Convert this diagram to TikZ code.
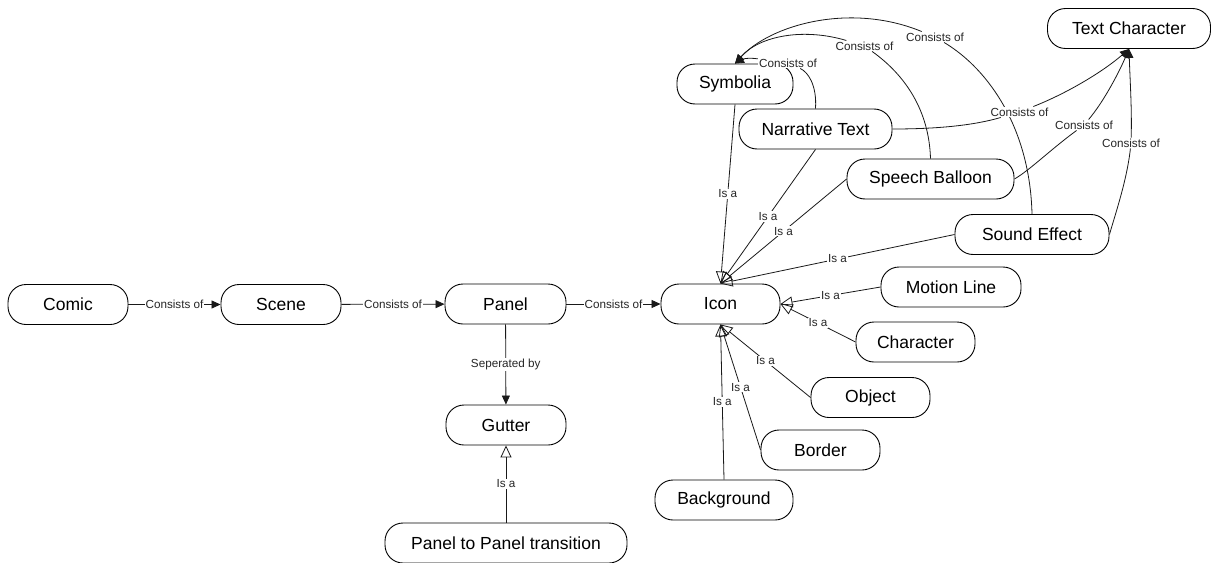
\documentclass[tikz,border=0pt]{standalone}
\usepackage{fontspec}
\setmainfont{Liberation Sans}
\usetikzlibrary{arrows.meta}
\begin{document}
\begin{tikzpicture}[x=1pt,y=-1pt,
  concept/.style={draw, line width=0.9pt, rounded corners=18pt, minimum height=40pt,
    inner sep=0pt, font=\fontsize{17.5}{21}\selectfont},
  lbl/.style={fill=white, inner sep=1pt, font=\fontsize{11.7}{13}\selectfont, text=black!85},
  link/.style={line width=0.8pt, draw=black!90},
  has/.style={link, -{Triangle[length=9pt,width=8pt]}},
  isa/.style={link, -{Triangle[open,length=12pt,width=11pt]}},
]
\useasboundingbox (0,0) rectangle (1212,562);

% concepts
\node[concept, minimum width=120pt] (comic)  at (68,304.5)   {Comic};
\node[concept, minimum width=120pt] (scene)  at (281,304.5)  {Scene};
\node[concept, minimum width=121pt] (panel)  at (505.5,304)  {Panel};
\node[concept, minimum width=119pt] (icon)   at (720.5,304)  {Icon};
\node[concept, minimum width=120pt] (gutter) at (506,425)    {Gutter};
\node[concept, minimum width=242pt] (ptp)    at (506,543)    {Panel to Panel transition};
\node[concept, minimum width=116pt] (sym)    at (735,84)     {Symbolia};
\node[concept, minimum width=153pt] (nt)     at (815.5,129)  {Narrative Text};
\node[concept, minimum width=163pt] (tc)     at (1129,28.5)  {Text Character};
\node[concept, minimum width=167pt] (sb)     at (930.5,179)  {Speech Balloon};
\node[concept, minimum width=154pt] (se)     at (1032,234.5) {Sound Effect};
\node[concept, minimum width=140pt] (ml)     at (951,287)    {Motion Line};
\node[concept, minimum width=119pt] (ch)     at (915.5,342)  {Character};
\node[concept, minimum width=119pt] (obj)    at (870.5,397.5){Object};
\node[concept, minimum width=119pt] (bor)    at (820.5,450)  {Border};
\node[concept, minimum width=138pt] (bg)     at (724,500)    {Background};

% main chain
\draw[has] (comic) -- node[lbl]{Consists of} (scene);
\draw[has] (scene) -- node[lbl]{Consists of} (panel);
\draw[has] (panel) -- node[lbl]{Consists of} (icon);
\draw[has] (panel) -- node[lbl]{Seperated by} (gutter);
\draw[isa] (ptp) -- node[lbl]{Is a} (gutter);

% kinds of icon
\draw[isa] (sym.south) -- node[lbl]{Is a} (icon.north);
\draw[isa] (nt.south)  -- node[lbl]{Is a} (icon.north);
\draw[isa] (sb.west)   -- node[lbl]{Is a} (icon.north);
\draw[isa] (se.west)   -- node[lbl]{Is a} (icon.north);
\draw[isa] (ml.west)   -- node[lbl]{Is a} (icon.east);
\draw[isa] (ch.west)   -- node[lbl]{Is a} (icon.east);
\draw[isa] (obj.west)  -- node[lbl]{Is a} (icon.south);
\draw[isa] (bor.west)  -- node[lbl]{Is a} (icon.south);
\draw[isa] (bg.north)  -- node[lbl]{Is a} (icon.south);

% composition into symbolia
\node[lbl] (la) at (788,63) {Consists of};
\draw[link] (nt.north) .. controls (817,85) and (808,72) .. (la);
\draw[has] (la) .. controls (752,58) and (745,58) .. (sym.north);

\node[lbl] (lb) at (864.5,46) {Consists of};
\draw[link] (sb.north) .. controls (929,110) and (905,75) .. (lb);
\draw[has] (lb) .. controls (805,28) and (760,35) .. (sym.north);

\node[lbl] (lc) at (935,37) {Consists of};
\draw[link] (se.north) .. controls (1030,130) and (990,70) .. (lc);
\draw[has] (lc) .. controls (850,2) and (770,25) .. (sym.north);

% composition into text characters
\node[lbl] (ld) at (1019.5,112) {Consists of};
\draw[link] (nt.east) .. controls (940,129) and (975,125) .. (ld);
\draw[has] (ld) .. controls (1070,92) and (1105,70) .. (tc.south);

\node[lbl] (le) at (1084,125) {Consists of};
\draw[link] (sb.east) .. controls (1030,170) and (1050,150) .. (le);
\draw[has] (le) .. controls (1105,100) and (1120,70) .. (tc.south);

\node[lbl] (lf) at (1131,143) {Consists of};
\draw[link] (se.east) .. controls (1115,215) and (1127,180) .. (lf);
\draw[has] (lf) .. controls (1132,110) and (1130,80) .. (tc.south);
\end{tikzpicture}
\end{document}
